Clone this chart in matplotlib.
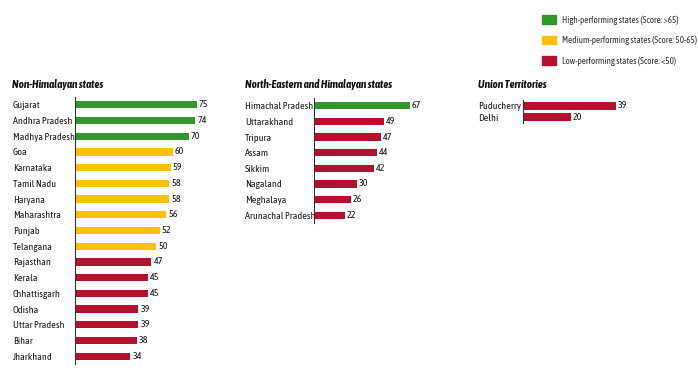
import matplotlib.pyplot as plt
from matplotlib import font_manager
from matplotlib.patches import Patch

GREEN = '#2f9a2b'
YELLOW = '#ffc000'
RED = '#b3112e'

# data
non_him_states = ['Gujarat', 'Andhra Pradesh', 'Madhya Pradesh', 'Goa', 'Karnataka',
                  'Tamil Nadu', 'Haryana', 'Maharashtra', 'Punjab', 'Telangana',
                  'Rajasthan', 'Kerala', 'Chhattisgarh', 'Odisha', 'Uttar Pradesh',
                  'Bihar', 'Jharkhand']
non_him_scores = [75, 74, 70, 60, 59, 58, 58, 56, 52, 50, 47, 45, 45, 39, 39, 38, 34]

ne_states = ['Himachal Pradesh', 'Uttarakhand', 'Tripura', 'Assam', 'Sikkim',
             'Nagaland', 'Meghalaya', 'Arunachal Pradesh']
ne_scores = [67, 49, 47, 44, 42, 30, 26, 22]

ut_names = ['Puducherry', 'Delhi']
ut_scores = [39, 20]

legend_labels = ['High-performing states (Score: >65)',
                 'Medium-performing states (Score: 50-65)',
                 'Low-performing states (Score: <50)']

# the source text is narrow, so take a condensed face when there is one
# (name, label size, title size, legend size)
font_choices = [('Asap Condensed', 7.2, 8.0, 6.6),
                ('Archivo Narrow', 7.0, 7.9, 6.4),
                ('Lato', 5.9, 6.6, 5.2)]
for name, FS, TFS, LFS in font_choices:
    try:
        font_manager.findfont(name, fallback_to_default=False)
        break
    except ValueError:
        continue
plt.rcParams['font.family'] = [name, 'DejaVu Sans']


def score_color(s):
    if s > 65:
        return GREEN
    elif s >= 50:
        return YELLOW
    return RED


W, H = 698, 382
fig = plt.figure(figsize=(W / 100, H / 100), dpi=100)


# box = left, top, right, bottom in pixels
def panel(names, scores, box, xmax, bar_h, pad, title, title_x):
    l, t, r, b = box
    ax = fig.add_axes([l / W, (H - b) / H, (r - l) / W, (b - t) / H])
    y = list(range(len(names)))
    ax.barh(y, scores, height=bar_h, color=[score_color(s) for s in scores])
    for yi, s in zip(y, scores):
        ax.text(s + 1.3 * xmax / 80, yi, str(s), va='center', ha='left', fontsize=FS, color='#1a1a1a')
    ax.set_ylim(len(names) - 0.5, -0.5)
    ax.set_xlim(0, xmax)
    ax.set_yticks(y)
    ax.set_yticklabels(names, fontsize=FS, ha='left', color='#1a1a1a')
    ax.tick_params(axis='y', length=0, pad=pad)
    ax.set_xticks([])
    for sp in ['top', 'right', 'bottom']:
        ax.spines[sp].set_visible(False)
    ax.spines['left'].set_color('#333333')
    ax.spines['left'].set_linewidth(0.8)
    fig.text(title_x / W, 1 - 84 / H, title, fontsize=TFS, fontweight='bold',
             fontstyle='italic', va='center', ha='left', color='#111111')
    return ax


panel(non_him_states, non_him_scores, (75, 97, 205, 364), 80, 0.46, 62 * 0.72,
      'Non-Himalayan states', 12)
panel(ne_states, ne_scores, (314, 98, 421, 223), 75, 0.47, 69 * 0.72,
      'North-Eastern and Himalayan states', 245)
panel(ut_names, ut_scores, (523, 100, 630, 123), 45, 0.7, 45 * 0.72,
      'Union Territories', 478)

handles = [Patch(color=c) for c in [GREEN, YELLOW, RED]]
fig.legend(handles, legend_labels, loc='upper left', bbox_to_anchor=(542 / W, 1 - 15 / H),
           frameon=False, fontsize=LFS, handlelength=1.55, handleheight=1.1,
           labelspacing=1.2, handletextpad=0.6, borderpad=0, borderaxespad=0,
           labelcolor='#333333')

fig.savefig('out.png', dpi=100)
